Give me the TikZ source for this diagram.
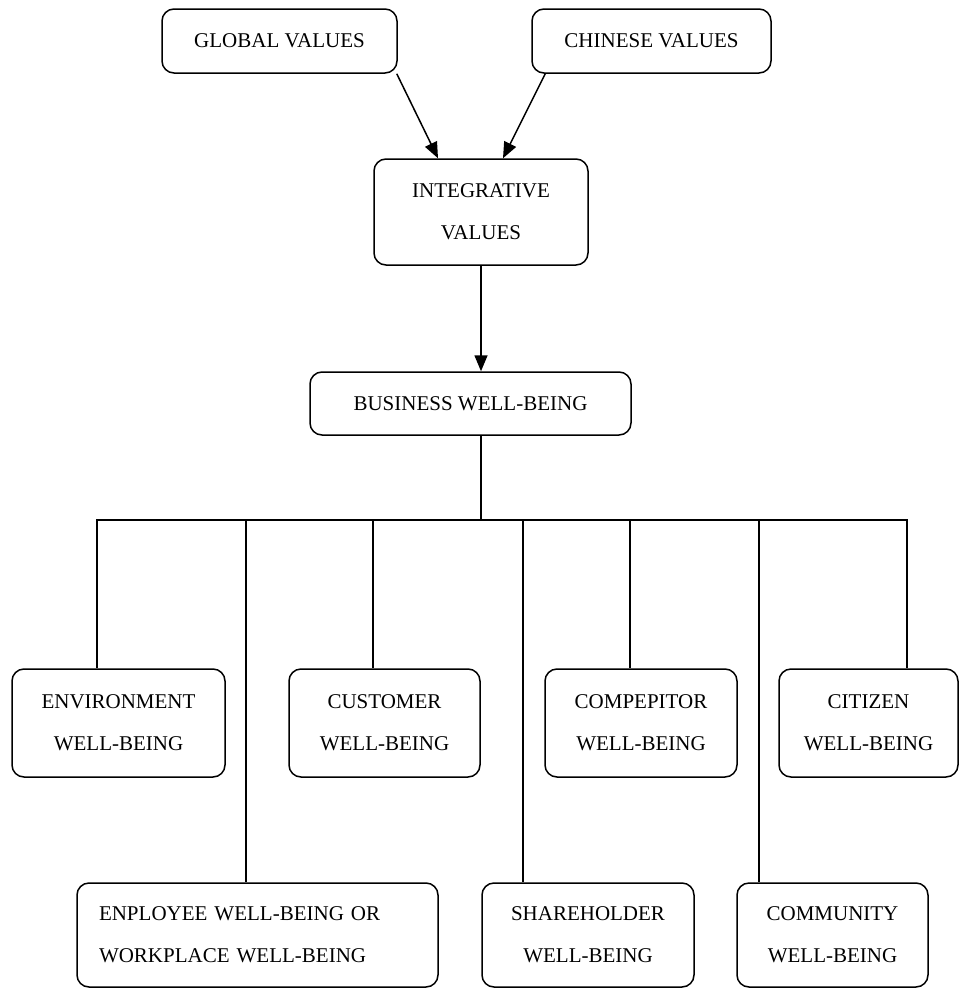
\documentclass[tikz,border=0pt]{standalone}
\usepackage{fontspec}
\setmainfont{Liberation Serif}
\usetikzlibrary{arrows.meta}

\tikzset{
	wbox/.style = {draw, line width=1.5pt, rounded corners=12pt, align=center, inner sep=0pt,
		font=\fontsize{21}{42}\selectfont},
	link/.style = {line width=1.5pt},
	arr/.style = {link, -{Triangle[length=16pt,width=13pt]}}
}

\begin{document}
\begin{tikzpicture}[x=1pt, y=-1pt]
			
			\useasboundingbox (0,0) rectangle (959,988);
			
			\node[wbox, minimum width=235pt, minimum height=64pt] (glob) at (279.5,41) {GLOBAL VALUES};
			\node[wbox, minimum width=239pt, minimum height=64pt] (chin) at (651.5,41) {CHINESE VALUES};
			
			\node[wbox, minimum width=214pt, minimum height=106pt] (integ) at (481,212) {INTEGRATIVE\\VALUES};
			
			\node[wbox, minimum width=321pt, minimum height=63pt] (bus) at (470.5,403.5) {BUSINESS WELL-BEING};
			
			\node[wbox, minimum width=213pt, minimum height=108pt] (env) at (118.5,723) {ENVIRONMENT\\WELL-BEING};
			\node[wbox, minimum width=191pt, minimum height=108pt] (cust) at (384.5,723) {CUSTOMER\\WELL-BEING};
			\node[wbox, minimum width=192pt, minimum height=108pt] (comp) at (641,723) {COMPEPITOR\\WELL-BEING};
			\node[wbox, minimum width=179pt, minimum height=108pt] (citi) at (868.5,723) {CITIZEN\\WELL-BEING};
			
			\node[wbox, minimum height=104pt, text width=317pt, inner xsep=22pt, align=left] (empl) at (257.5,935) {ENPLOYEE WELL-BEING OR\\WORKPLACE WELL-BEING};
			\node[wbox, minimum width=212pt, minimum height=104pt] (share) at (588,935) {SHAREHOLDER\\WELL-BEING};
			\node[wbox, minimum width=191pt, minimum height=104pt] (comm) at (832.5,935) {COMMUNITY\\WELL-BEING};
			
			
			\draw[arr] ([xshift=-1pt]glob.south east) -- ([xshift=-43pt]integ.north);
			\draw[arr] ([xshift=14pt]chin.south west) -- ([xshift=22pt]integ.north);
			\draw[arr] (integ.south) -- (integ.south |- bus.north);
			
			\coordinate (bar) at (481,520);
			\draw[link] (bar |- bus.south) -- (bar);
			
			\draw[link] (bar) -| ([xshift=-21.5pt]env.north);
			\draw[link] (bar) -| ([xshift=-11.5pt]cust.north);
			\draw[link] (bar) -| ([xshift=-11pt]comp.north);
			\draw[link] (bar) -| ([xshift=38.5pt]citi.north);
			\draw[link] (bar) -| ([xshift=-11.5pt]empl.north);
			\draw[link] (bar) -| ([xshift=-65pt]share.north);
			\draw[link] (bar) -| ([xshift=-73.5pt]comm.north);
			
			\end{tikzpicture}
\end{document}
